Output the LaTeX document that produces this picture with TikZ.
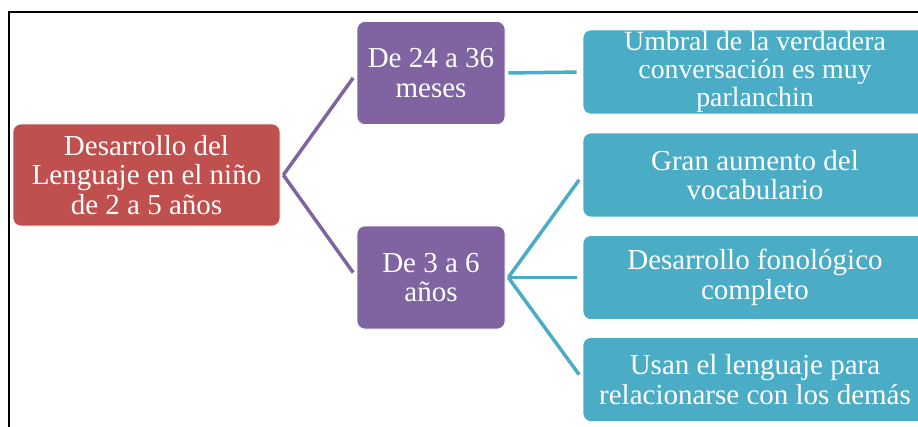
\documentclass[tikz,border=0pt]{standalone}
\usepackage{fontspec}
\setmainfont{Liberation Serif}
\usetikzlibrary{positioning}

\definecolor{rojo}{HTML}{C0504D}
\definecolor{morado}{HTML}{8064A2}
\definecolor{azul}{HTML}{4BACC6}

\tikzset{
  caja/.style={rectangle,rounded corners=8pt,draw=white,line width=0.6pt,
    text=white,align=center,inner sep=0pt,
    font=\fontsize{29}{29.5}\selectfont},
  raiz/.style={caja,fill=rojo,minimum width=267pt,minimum height=102pt},
  edad/.style={caja,fill=morado,minimum width=148pt,minimum height=103pt},
  hoja/.style={caja,fill=azul,minimum width=344pt,minimum height=84pt},
  rama/.style={line width=3.5pt},
}

\begin{document}
\begin{tikzpicture}[x=1pt,y=-1pt]

\useasboundingbox (0,0) rectangle (918,426);

% marco
\draw[line width=1.6pt] (940,12) -- (9,12) -- (9,440);

\node[raiz] (R) at (146.5,175) {Desarrollo del\\Lenguaje en el niño\\de 2 a 5 años};

\node[edad] (E1) at (431,73) {De 24 a 36\\meses};
\node[edad] (E2) at (431,277.5) {De 3 a 6\\años};

\node[hoja,font=\fontsize{27.8}{28}\selectfont] (H1) at (755,72) {Umbral de la verdadera\\conversación es muy\\parlanchin};
\node[hoja] (H2) at (755,175) {Gran aumento del\\vocabulario};
\node[hoja] (H3) at (755,277.5) {Desarrollo fonológico\\completo};
\node[hoja] (H4) at (755,379.5) {Usan el lenguaje para\\relacionarse con los demás};

\coordinate (R0) at ([xshift=3pt]R.east);
\coordinate (E0) at ([xshift=3pt]E2.east);

\draw[rama,morado,shorten >=6pt] (R0) -- (E1.west);
\draw[rama,morado,shorten >=6pt] (R0) -- (E2.west);

\draw[rama,azul,shorten <=3pt,shorten >=6pt] (E1.east) -- (H1.west);
\draw[rama,azul,shorten >=6pt] (E0) -- (H2.west);
\draw[rama,azul,shorten >=6pt] (E0) -- (H3.west);
\draw[rama,azul,shorten >=6pt] (E0) -- (H4.west);

\end{tikzpicture}
\end{document}
